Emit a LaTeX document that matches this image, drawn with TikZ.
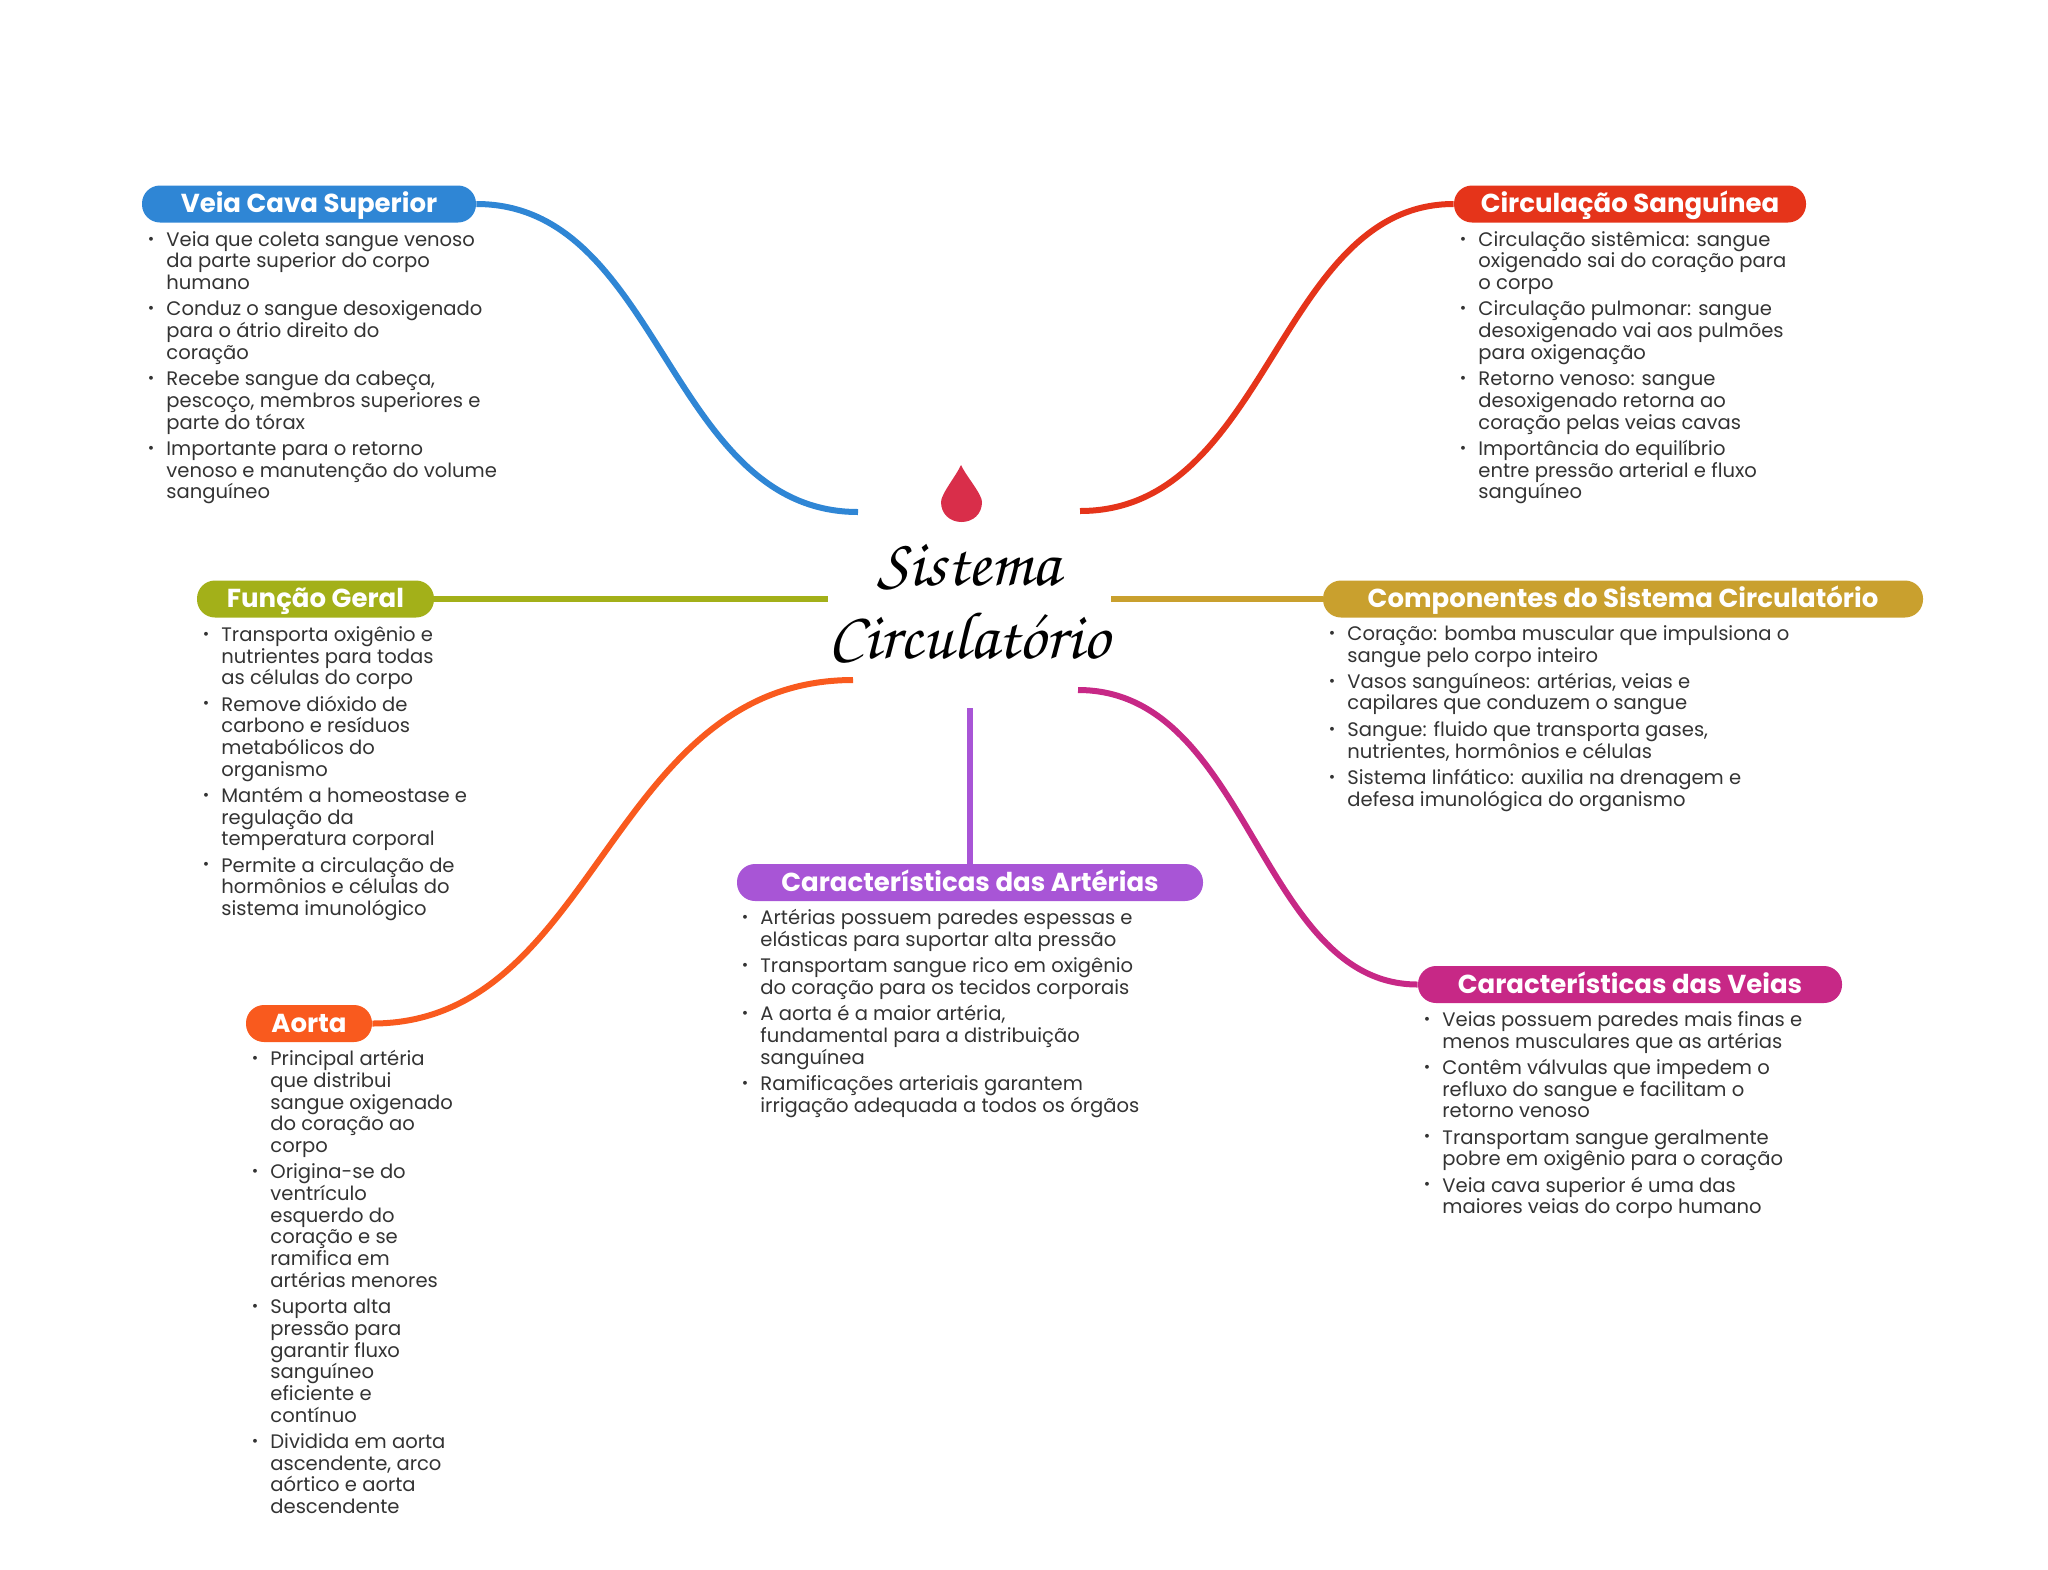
\documentclass[tikz,border=0pt]{standalone}
\usepackage{fontspec}
\setmainfont{Poppins}
\usepackage{xcolor}
\usetikzlibrary{calc}
\definecolor{veiablue}{HTML}{2F86D5}
\definecolor{circred}{HTML}{E5341A}
\definecolor{funcolive}{HTML}{A3B019}
\definecolor{compgold}{HTML}{C9A02E}
\definecolor{artpurple}{HTML}{A855D6}
\definecolor{veiamag}{HTML}{C72886}
\definecolor{aortaorange}{HTML}{F95A1E}
\definecolor{dropred}{HTML}{D92E4A}
\definecolor{bodygray}{HTML}{333333}
\newcommand{\itm}{\llap{\raisebox{1.1pt}{\scalebox{0.8}{\textbullet}}\hspace{6pt}}}
\newcommand{\gap}{\\[2.3pt]}
\tikzset{
  pill/.style={
    rectangle, rounded corners=9pt, fill=#1, text=white,
    minimum height=18.5pt, inner sep=0pt, text height=10.9pt, text depth=2pt,
    font=\fontsize{13}{15}\selectfont\bfseries
  },
  pill/.default=veiablue,
  bodytext/.style={
    anchor=north west, align=left, inner sep=0pt, text=bodygray,
    font=\fontsize{9.78}{10.85}\selectfont
  },
  branch/.style={line width=3pt, color=#1},
  branch/.default=veiablue,
  titletext/.style={
    font=\fontsize{33.5}{36.5}\usefont{OT1}{pzc}{m}{it}, align=center, inner sep=0pt
  },
}
\begin{document}
\begin{tikzpicture}[x=0.5pt,y=-0.5pt]
  \useasboundingbox (0,0) rectangle (2048,1569);

  % Centre
  \fill[dropred] (961,465) .. controls (966,476) and (982,494) .. (982,502)
    .. controls (982,514) and (973,522) .. (961.5,522)
    .. controls (950,522) and (941,514) .. (941,502)
    .. controls (941,494) and (956,476) .. (961,465) -- cycle;
  \node[titletext] (titulo) at (969,601) {Sistema\\Circulat\'orio};

  % Free ends of the branches
  \coordinate (endveia) at (858,512);
  \coordinate (endcirc) at (1080,511);
  \coordinate (endfunc) at (828,599);
  \coordinate (endcomp) at (1111,599);
  \coordinate (endaorta) at (853,680);
  \coordinate (endveias) at (1078,690);
  \coordinate (endart) at (969,708);

  % Headers
  \node[pill=veiablue, minimum width=167pt] (veiacava) at (309,204) {Veia Cava Superior};
  \node[pill=circred, minimum width=176pt] (circulacao) at (1630,204) {Circulação Sanguínea};
  \node[pill=funcolive, minimum width=118.5pt] (funcao) at (315.5,599) {Função Geral};
  \node[pill=compgold, minimum width=300pt] (componentes) at (1623,599) {Componentes do Sistema Circulatório};
  \node[pill=artpurple, minimum width=233pt] (arterias) at (970,882.5) {Características das Artérias};
  \node[pill=veiamag, minimum width=212pt] (veias) at (1630,984.5) {Características das Veias};
  \node[pill=aortaorange, minimum width=63pt] (aorta) at (309,1023.5) {Aorta};

  % Branches
  \draw[branch=veiablue] (veiacava.east) .. controls +(185,0) and +(-190,0) .. (endveia);
  \draw[branch=circred] (circulacao.west) .. controls +(-176,0) and +(189,0) .. (endcirc);
  \draw[branch=funcolive] (funcao.east) -- (endfunc);
  \draw[branch=compgold] (componentes.west) -- (endcomp);
  \draw[branch=aortaorange] (aorta.east) .. controls +(225,0) and +(-245,0) .. (endaorta);
  \draw[branch=veiamag] (veias.west) .. controls +(-159,0) and +(172,0) .. (endveias);
  \draw[branch=artpurple] (arterias.north |- endart) -- (arterias.north);

  % Texts
  \node[bodytext] (veiacavatext) at (166,231) {\itm Veia que coleta sangue venoso\\da parte superior do corpo\\humano\gap
    \itm Conduz o sangue desoxigenado\\para o átrio direito do\\coração\gap
    \itm Recebe sangue da cabeça,\\pescoço, membros superiores e\\parte do tórax\gap
    \itm Importante para o retorno\\venoso e manutenção do volume\\sanguíneo};
  \node[bodytext] (circulacaotext) at (1478,231) {\itm Circulação sistêmica: sangue\\oxigenado sai do coração para\\o corpo\gap
    \itm Circulação pulmonar: sangue\\desoxigenado vai aos pulmões\\para oxigenação\gap
    \itm Retorno venoso: sangue\\desoxigenado retorna ao\\coração pelas veias cavas\gap
    \itm Importância do equilíbrio\\entre pressão arterial e fluxo\\sanguíneo};
  \node[bodytext] (funcaotext) at (221,626) {\itm Transporta oxigênio e\\nutrientes para todas\\as células do corpo\gap
    \itm Remove dióxido de\\carbono e resíduos\\metabólicos do\\organismo\gap
    \itm Mantém a homeostase e\\regulação da\\temperatura corporal\gap
    \itm Permite a circulação de\\hormônios e células do\\sistema imunológico};
  \node[bodytext] (componentestext) at (1347,625) {\itm Coração: bomba muscular que impulsiona o\\sangue pelo corpo inteiro\gap
    \itm Vasos sanguíneos: artérias, veias e\\capilares que conduzem o sangue\gap
    \itm Sangue: fluido que transporta gases,\\nutrientes, hormônios e células\gap
    \itm Sistema linfático: auxilia na drenagem e\\defesa imunológica do organismo};
  \node[bodytext] (arteriastext) at (760,909) {\itm Artérias possuem paredes espessas e\\elásticas para suportar alta pressão\gap
    \itm Transportam sangue rico em oxigênio\\do coração para os tecidos corporais\gap
    \itm A aorta é a maior artéria,\\fundamental para a distribuição\\sanguínea\gap
    \itm Ramificações arteriais garantem\\irrigação adequada a todos os órgãos};
  \node[bodytext] (veiastext) at (1442,1011) {\itm Veias possuem paredes mais finas e\\menos musculares que as artérias\gap
    \itm Contêm válvulas que impedem o\\refluxo do sangue e facilitam o\\retorno venoso\gap
    \itm Transportam sangue geralmente\\pobre em oxigênio para o coração\gap
    \itm Veia cava superior é uma das\\maiores veias do corpo humano};
  \node[bodytext] (aortatext) at (270,1050) {\itm Principal artéria\\que distribui\\sangue oxigenado\\do coração ao\\corpo\gap
    \itm Origina-se do\\ventrículo\\esquerdo do\\coração e se\\ramifica em\\artérias menores\gap
    \itm Suporta alta\\pressão para\\garantir fluxo\\sanguíneo\\eficiente e\\contínuo\gap
    \itm Dividida em aorta\\ascendente, arco\\aórtico e aorta\\descendente};
\end{tikzpicture}
\end{document}
